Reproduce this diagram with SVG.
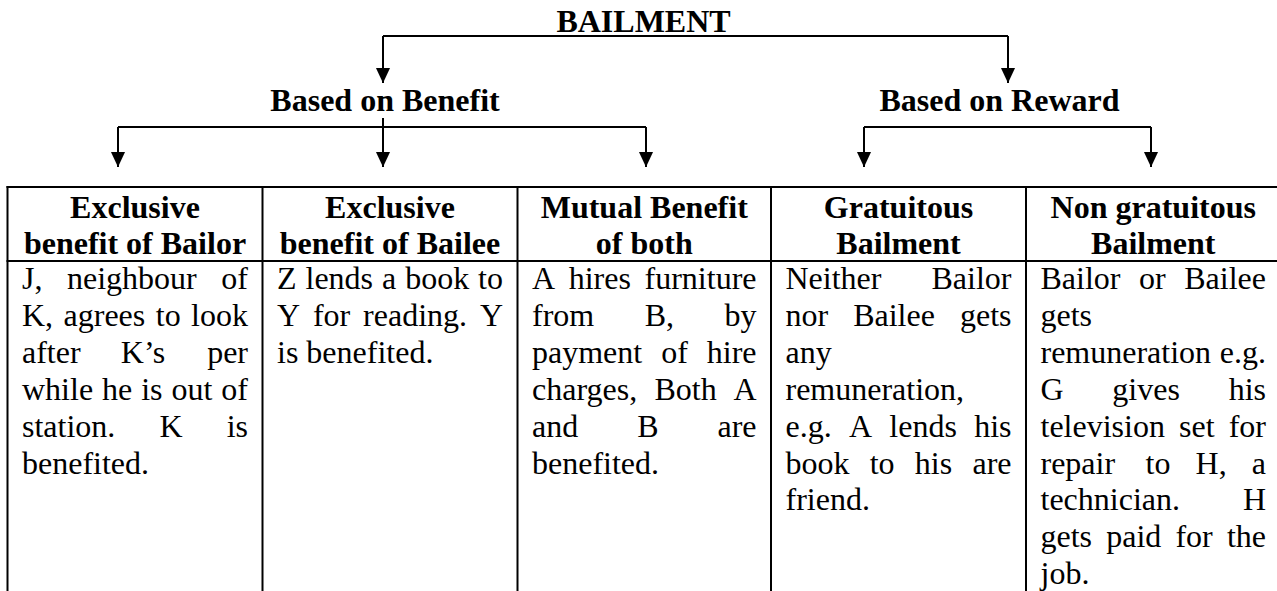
<svg xmlns="http://www.w3.org/2000/svg" width="1277" height="591" viewBox="0 0 1277 591">
<defs>
<marker id="arr" markerUnits="userSpaceOnUse" markerWidth="15" markerHeight="16" viewBox="0 0 16 15" refX="16" refY="7.5" orient="auto">
<path d="M0,0 L16,7.5 L0,15 z" fill="#000"/>
</marker>
</defs>
<style>
.h{font-family:"Liberation Serif","Times New Roman",serif;font-weight:bold;font-size:32px;fill:#000;text-anchor:middle}
.b{font-family:"Liberation Serif","Times New Roman",serif;font-size:32px;fill:#000}
.e{text-anchor:end}
.c{stroke:#000;stroke-width:2;fill:none}
.a{marker-end:url(#arr)}
.g{stroke:#000;stroke-width:2}
</style>
<rect width="1277" height="591" fill="#fff"/>

<g id="connectors">
<path class="c" d="M383,36 H1008"/>
<path class="c a" d="M383,36 V83"/>
<path class="c a" d="M1008,36 V83"/>
<path class="c" d="M118,127 H646"/>
<path class="c a" d="M118,127 V167"/>
<path class="c a" d="M383,118 V167"/>
<path class="c a" d="M646,127 V167"/>
<path class="c" d="M864,127 H1151"/>
<path class="c a" d="M864,127 V167"/>
<path class="c a" d="M1151,127 V167"/>
</g>

<g id="bailment"><text class="h" x="643.5" y="32">BAILMENT</text></g>
<g id="based-benefit"><text class="h" x="385" y="111">Based on Benefit</text></g>
<g id="based-reward"><text class="h" x="999.5" y="111">Based on Reward</text></g>

<g id="table">
<line class="g" x1="6.5" y1="187" x2="1277" y2="187"/>
<line class="g" x1="6.5" y1="261" x2="1277" y2="261"/>
<line class="g" x1="7.5" y1="186" x2="7.5" y2="591"/>
<line class="g" x1="262.5" y1="186" x2="262.5" y2="591"/>
<line class="g" x1="517.5" y1="186" x2="517.5" y2="591"/>
<line class="g" x1="771" y1="186" x2="771" y2="591"/>
<line class="g" x1="1026" y1="186" x2="1026" y2="591"/>
</g>

<g id="col-bailor">
<text class="h" x="135" y="218">Exclusive</text>
<text class="h" x="135" y="253.5">benefit of Bailor</text>
<text class="b" y="289"><tspan x="22">J,</tspan><tspan x="67.02">neighbour</tspan><tspan class="e" x="248">of</tspan></text>
<text class="b" y="325.9"><tspan x="22">K,</tspan><tspan x="63.56">agrees</tspan><tspan x="155.75">to</tspan><tspan class="e" x="248">look</tspan></text>
<text class="b" y="362.8"><tspan x="22">after</tspan><tspan x="120.78">K’s</tspan><tspan class="e" x="248">per</tspan></text>
<text class="b" y="399.7"><tspan x="22">while</tspan><tspan x="102.05">he</tspan><tspan x="141.21">is</tspan><tspan x="171.5">out</tspan><tspan class="e" x="248">of</tspan></text>
<text class="b" y="436.6"><tspan x="22">station.</tspan><tspan x="159.45">K</tspan><tspan class="e" x="248">is</tspan></text>
<text class="b" x="22" y="473.5">benefited.</text>
</g>

<g id="col-bailee">
<text class="h" x="390" y="218">Exclusive</text>
<text class="h" x="390" y="253.5">benefit of Bailee</text>
<text class="b" y="289"><tspan x="277">Z</tspan><tspan x="305.5">lends</tspan><tspan x="382">a</tspan><tspan x="405.16">book</tspan><tspan class="e" x="503">to</tspan></text>
<text class="b" y="325.9"><tspan x="277">Y</tspan><tspan x="312.94">for</tspan><tspan x="363.09">reading.</tspan><tspan class="e" x="503">Y</tspan></text>
<text class="b" x="277" y="362.8">is benefited.</text>
</g>

<g id="col-mutual">
<text class="h" x="644.25" y="218">Mutual Benefit</text>
<text class="h" x="644.25" y="253.5">of both</text>
<text class="b" y="289"><tspan x="532">A</tspan><tspan x="568.71">hires</tspan><tspan class="e" x="756.5">furniture</tspan></text>
<text class="b" y="325.9"><tspan x="532">from</tspan><tspan x="644.68">B,</tspan><tspan class="e" x="756.5">by</tspan></text>
<text class="b" y="362.8"><tspan x="532">payment</tspan><tspan x="661.15">of</tspan><tspan class="e" x="756.5">hire</tspan></text>
<text class="b" y="399.7"><tspan x="532">charges,</tspan><tspan x="654.44">Both</tspan><tspan class="e" x="756.5">A</tspan></text>
<text class="b" y="436.6"><tspan x="532">and</tspan><tspan x="637.15">B</tspan><tspan class="e" x="756.5">are</tspan></text>
<text class="b" x="532" y="473.5">benefited.</text>
</g>

<g id="col-gratuitous">
<text class="h" x="898.5" y="218">Gratuitous</text>
<text class="h" x="898.5" y="253.5">Bailment</text>
<text class="b" y="289"><tspan x="785.5">Neither</tspan><tspan class="e" x="1011.5">Bailor</tspan></text>
<text class="b" y="325.9"><tspan x="785.5">nor</tspan><tspan x="853.17">Bailee</tspan><tspan class="e" x="1011.5">gets</tspan></text>
<text class="b" x="785.5" y="362.8">any</text>
<text class="b" x="785.5" y="399.7">remuneration,</text>
<text class="b" y="436.6"><tspan x="785.5">e.g.</tspan><tspan x="848.97">A</tspan><tspan x="889.34">lends</tspan><tspan class="e" x="1011.5">his</tspan></text>
<text class="b" y="473.5"><tspan x="785.5">book</tspan><tspan x="869.73">to</tspan><tspan x="914.86">his</tspan><tspan class="e" x="1011.5">are</tspan></text>
<text class="b" x="785.5" y="510.4">friend.</text>
</g>

<g id="col-nongratuitous">
<text class="h" x="1153.25" y="218">Non gratuitous</text>
<text class="h" x="1153.25" y="253.5">Bailment</text>
<text class="b" y="289"><tspan x="1040.5">Bailor</tspan><tspan x="1139.04">or</tspan><tspan class="e" x="1266">Bailee</tspan></text>
<text class="b" x="1040.5" y="325.9">gets</text>
<text class="b" y="362.8"><tspan x="1040.5">remuneration</tspan><tspan class="e" x="1266">e.g.</tspan></text>
<text class="b" y="399.7"><tspan x="1040.5">G</tspan><tspan x="1112.35">gives</tspan><tspan class="e" x="1266">his</tspan></text>
<text class="b" y="436.6"><tspan x="1040.5">television</tspan><tspan x="1179.04">set</tspan><tspan class="e" x="1266">for</tspan></text>
<text class="b" y="473.5"><tspan x="1040.5">repair</tspan><tspan x="1145.58">to</tspan><tspan x="1195.58">H,</tspan><tspan class="e" x="1266">a</tspan></text>
<text class="b" y="510.4"><tspan x="1040.5">technician.</tspan><tspan class="e" x="1266">H</tspan></text>
<text class="b" y="547.3"><tspan x="1040.5">gets</tspan><tspan x="1106.2">paid</tspan><tspan x="1175.44">for</tspan><tspan class="e" x="1266">the</tspan></text>
<text class="b" x="1040.5" y="584.2">job.</text>
</g>
</svg>
